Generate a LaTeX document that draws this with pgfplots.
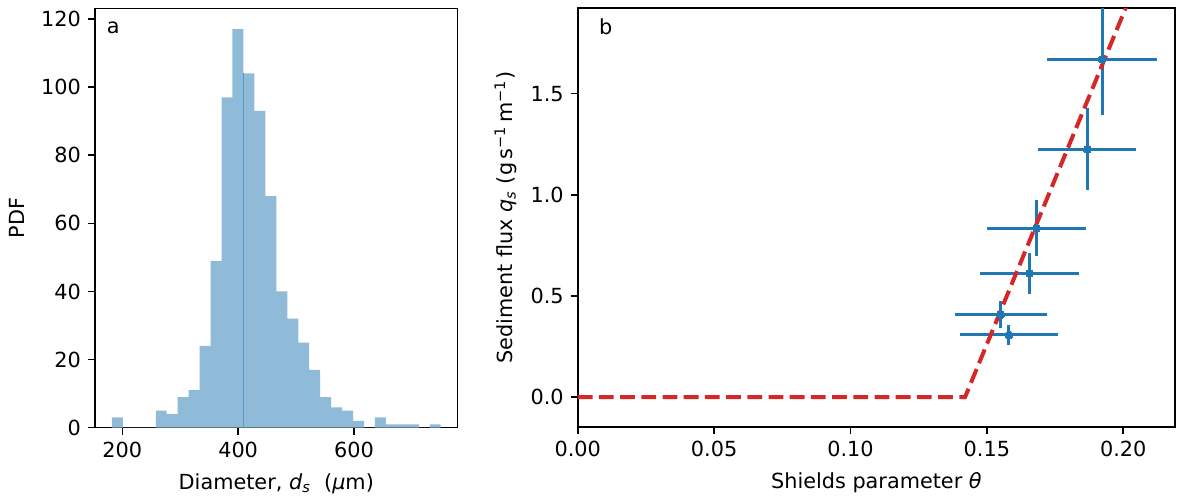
\documentclass[border=0pt]{standalone}
\usepackage{fontspec}
\setmainfont{DejaVu Sans}
\usepackage{pgfplots}
\pgfplotsset{compat=1.18}
\definecolor{tabblue}{HTML}{1F77B4}
\definecolor{tabred}{HTML}{D62728}
\definecolor{histblue}{HTML}{8FBBD9}
\definecolor{seamblue}{HTML}{5799C6}
\pgfplotsset{
  common/.style={
    scale only axis,
    axis line style={line width=0.8pt},
    tick style={line width=0.8pt, black},
    major tick length=3.5pt,
    tick align=outside,
    tick pos=left,
    /pgf/number format/assume math mode=true,
    ticklabel style={font=\fontsize{10.4}{12.5}\selectfont},
    label style={font=\fontsize{10.4}{12.5}\selectfont},
  }
}
\begin{document}
\begin{tikzpicture}
\begin{axis}[common,
  width=181.3pt, height=209.5pt,
  xmin=152.8, xmax=779, ymin=0, ymax=123,
  xtick={200,400,600}, ytick={0,20,40,60,80,100,120},
  xlabel={Diameter, \textit{d}\textsubscript{\textit{s}}\ \ (\textit{μ}m)},
  ylabel={PDF},
  ylabel style={yshift=1.5pt},
  xlabel style={yshift=-1pt}]
\addplot[ybar interval, fill=histblue, draw=none] coordinates {
(182.00,3) (200.93,0) (219.86,0) (238.79,0) (257.72,5) (276.65,4)
(295.58,9) (314.51,11) (333.44,24) (352.37,49) (371.30,97) (390.23,117)
(409.16,104) (428.09,93) (447.02,68) (465.95,40) (484.88,32) (503.81,25)
(522.74,17) (541.67,9) (560.60,6) (579.53,5) (598.46,2) (617.39,0)
(636.32,3) (655.25,1) (674.18,1) (693.11,1) (712.04,0) (730.97,1)
(749.90,1)};
\addplot[seamblue, line width=0.5pt] coordinates {(409.16,0) (409.16,104)};
\node[font=\fontsize{10.4}{12.5}\selectfont] at (rel axis cs:0.05,0.955) {a};
\end{axis}
\begin{axis}[common,
  at={(241.35pt,0.35pt)},
  width=298.7pt, height=209.35pt,
  xmin=0, xmax=0.219, ymin=-0.148, ymax=1.922,
  xtick={0,0.05,0.10,0.15,0.20}, ytick={0,0.5,1.0,1.5},
  xticklabel style={/pgf/number format/.cd, fixed, fixed zerofill, precision=2},
  yticklabel style={/pgf/number format/.cd, fixed, fixed zerofill, precision=1},
  xlabel={Shields parameter \textit{θ}},
  xlabel style={yshift=-1pt},
  ylabel={Sediment flux \textit{q}\textsubscript{\textit{s}} (g\,s\textsuperscript{−1}\,m\textsuperscript{−1})}]
\addplot[tabblue, only marks, mark=*, mark size=2pt,
  mark options={fill=tabblue, draw=tabblue, line width=0pt},
  error bars/.cd, x dir=both, x explicit, y dir=both, y explicit,
  error bar style={line width=1.5pt, tabblue}, error mark=none]
coordinates {
(0.1922,1.670) +- (0.0202,0.277)
(0.1868,1.225) +- (0.0180,0.203)
(0.1682,0.834) +- (0.0181,0.139)
(0.1656,0.612) +- (0.0180,0.101)
(0.1551,0.407) +- (0.0168,0.067)
(0.1581,0.307) +- (0.0179,0.050)
};
\addplot[tabred, line width=2pt, dash pattern=on 7.4pt off 3.2pt] coordinates {(0,0) (0.142,0) (0.205,2.058)};
\node[font=\fontsize{10.4}{12.5}\selectfont] at (rel axis cs:0.047,0.955) {b};
\end{axis}
\pgfresetboundingbox
\path[use as bounding box] (-47.5pt,-34.65pt) rectangle (541pt,213.85pt);
\end{tikzpicture}
\end{document}
